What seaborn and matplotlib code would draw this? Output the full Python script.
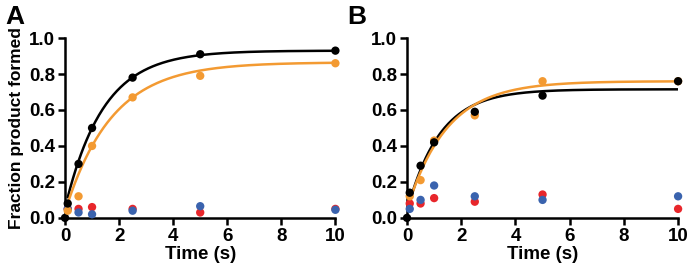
import numpy as np
import pandas as pd
import matplotlib
matplotlib.use("Agg")
import matplotlib.pyplot as plt
import seaborn as sns

sns.set_style("ticks")
plt.rcParams['font.family'] = ['Liberation Sans', 'DejaVu Sans']
plt.rcParams['font.weight'] = 'bold'
plt.rcParams['text.color'] = 'black'
plt.rcParams['axes.edgecolor'] = 'black'
plt.rcParams['xtick.color'] = 'black'
plt.rcParams['ytick.color'] = 'black'
plt.rcParams['axes.labelcolor'] = 'black'

time = [0.1, 0.5, 1, 2.5, 5, 10]

# panel A
a_black = [0.08, 0.30, 0.50, 0.78, 0.91, 0.93]
a_orange = [0.04, 0.12, 0.40, 0.67, 0.79, 0.86]
a_red = [0.05, 0.05, 0.06, 0.05, 0.03, 0.05]
a_blue = [0.05, 0.03, 0.02, 0.04, 0.065, 0.045]

# panel B
b_black = [0.14, 0.29, 0.42, 0.59, 0.68, 0.76]
b_orange = [0.12, 0.21, 0.43, 0.57, 0.76, 0.76]
b_red = [0.08, 0.08, 0.11, 0.09, 0.13, 0.05]
b_blue = [0.05, 0.10, 0.18, 0.12, 0.10, 0.12]

# single-exponential fit parameters (plateau, rate, time offset)
a_fits = {'black': (0.93, 0.71, -0.085), 'orange': (0.865, 0.58, -0.07)}
b_fits = {'black': (0.715, 0.83, -0.065), 'orange': (0.76, 0.68, -0.10)}

colors = {'black': '#000000', 'orange': '#F39A32', 'red': '#E8262B', 'blue': '#3A63AE'}


def make_df(black, orange, red, blue):
    rows = [(0, 0.0, 'black')]
    for name, vals in [('red', red), ('blue', blue), ('orange', orange), ('black', black)]:
        for t, v in zip(time, vals):
            rows.append((t, v, name))
    return pd.DataFrame(rows, columns=['t', 'y', 'series'])


def fit_df(fits):
    tt = np.linspace(0.1, 10, 300)
    parts = []
    for name, (p, k, t0) in fits.items():
        parts.append(pd.DataFrame({'t': tt, 'y': p * (1 - np.exp(-k * (tt - t0))), 'series': name}))
    return pd.concat(parts)


fig = plt.figure(figsize=(6.88, 2.68), dpi=100)
axA = fig.add_axes([0.0945, 0.187, 0.393, 0.671])
axB = fig.add_axes([0.5916, 0.187, 0.394, 0.671])

for ax, df, fits, letter in [(axA, make_df(a_black, a_orange, a_red, a_blue), a_fits, 'A'),
                             (axB, make_df(b_black, b_orange, b_red, b_blue), b_fits, 'B')]:
    sns.lineplot(data=fit_df(fits), x='t', y='y', hue='series', palette=colors,
                 linewidth=1.8, legend=False, ax=ax, zorder=2)
    sns.scatterplot(data=df, x='t', y='y', hue='series', palette=colors, s=36,
                    edgecolor='none', legend=False, ax=ax, zorder=3, clip_on=False)
    ax.set_xlim(0, 10)
    ax.set_ylim(0, 1.0)
    ax.set_xticks([0, 2, 4, 6, 8, 10])
    ax.set_yticks([0, 0.2, 0.4, 0.6, 0.8, 1.0])
    ax.set_yticklabels(['0.0', '0.2', '0.4', '0.6', '0.8', '1.0'])
    ax.tick_params(labelsize=13.5, width=1.8, length=5, direction='out', pad=2)
    for lbl in ax.get_xticklabels() + ax.get_yticklabels():
        lbl.set_fontweight('bold')
    for side in ['top', 'right']:
        ax.spines[side].set_visible(False)
    for side in ['left', 'bottom']:
        ax.spines[side].set_linewidth(1.8)
    ax.set_xlabel('Time (s)', fontsize=13.5, fontweight='bold', labelpad=1)
    ax.set_ylabel('')
    ax.text(-0.22, 1.05, letter, transform=ax.transAxes, fontsize=19,
            fontweight='bold', va='bottom', ha='left')

axA.set_ylabel('Fraction product formed', fontsize=12.5, fontweight='bold', labelpad=4)

fig.savefig('out.png', dpi=100)
